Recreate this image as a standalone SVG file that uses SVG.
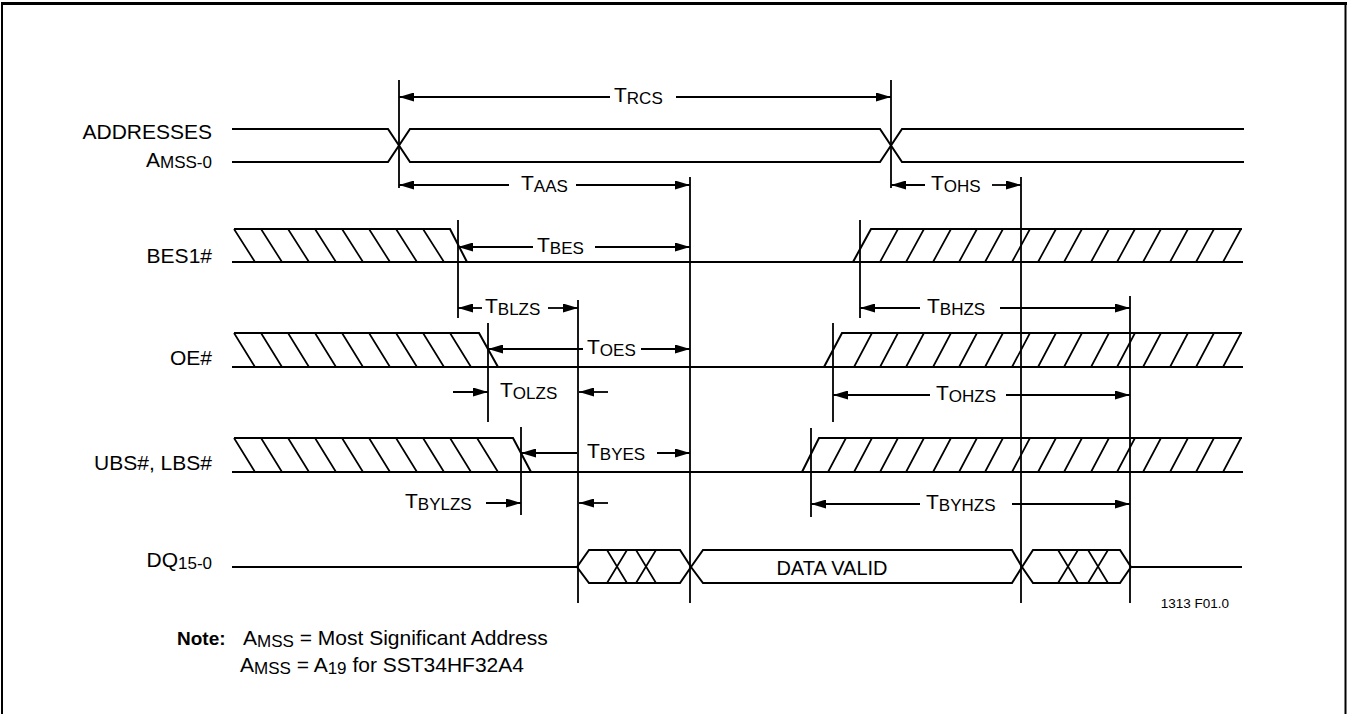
<svg xmlns="http://www.w3.org/2000/svg" width="1348" height="714" viewBox="0 0 1348 714">
<defs>
<style>
.s{stroke:#000;stroke-width:2;fill:none;stroke-linejoin:miter}
.h{stroke:#000;stroke-width:1.7;fill:none}
.v{stroke:#000;stroke-width:1.8;fill:none}
.a{stroke:#000;stroke-width:1.8;fill:none;marker-end:url(#ah)}
text{font-family:"Liberation Sans",Arial,Helvetica,sans-serif;font-size:21px;fill:#000}
.sub{font-size:17px}
.small{font-size:13.5px}
.b{font-weight:bold;font-size:19px}
</style>
<marker id="ah" viewBox="0 0 15 9" refX="15" refY="4.5" markerWidth="15" markerHeight="9" markerUnits="userSpaceOnUse" orient="auto"><path d="M0,0L15,4.5L0,9z" fill="#000"/></marker>
</defs>
<rect width="1348" height="714" fill="#fff"/>
<g id="frame">
<line x1="1" y1="3.5" x2="1347" y2="3.5" stroke="#000" stroke-width="3"/>
<line x1="2" y1="3" x2="2" y2="714" stroke="#000" stroke-width="2"/>
<line x1="1345.5" y1="3" x2="1345.5" y2="714" stroke="#000" stroke-width="2"/>
</g>
<g id="sig-addresses">
<text x="212" y="139" text-anchor="end">ADDRESSES</text>
<text x="212" y="167" text-anchor="end">A<tspan class="sub" dy="1">MSS-0</tspan></text>
<path class="s" d="M232,129L388,129L410,162L880,162L902,129L1244,129"/>
<path class="s" d="M232,162L388,162L410,129L880,129L902,162L1244,162"/>
</g>
<g id="sig-bes1">
<text x="212" y="263" text-anchor="end">BES1#</text>
<path class="s" d="M232,262L1243,262"/>
<path class="s" d="M234,229L450,229L467,262"/>
<path class="h" d="M234,229L255,262M261,229L282,262M288,229L309,262M315,229L336,262M342,229L363,262M369,229L390,262M396,229L417,262M423,229L444,262"/>
<path class="s" d="M853,262L871,229L1242,229"/>
<path class="h" d="M880,262L898,229M906,262L924,229M933,262L951,229M959,262L977,229M985,262L1003,229M1012,262L1030,229M1038,262L1056,229M1064,262L1082,229M1091,262L1109,229M1117,262L1135,229M1143,262L1161,229M1170,262L1188,229M1196,262L1214,229M1223,262L1241,229"/>
</g>
<g id="sig-oe">
<text x="212" y="365" text-anchor="end">OE#</text>
<path class="s" d="M232,367L1243,367"/>
<path class="s" d="M234,333L479,333L498,367"/>
<path class="h" d="M234,333L255,367M261,333L282,367M288,333L309,367M315,333L336,367M342,333L363,367M369,333L390,367M396,333L417,367M423,333L444,367M450,333L471,367"/>
<path class="s" d="M824,367L842,333L1242,333"/>
<path class="h" d="M854,367L872,333M880,367L898,333M906,367L924,333M933,367L951,333M959,367L977,333M985,367L1003,333M1012,367L1030,333M1038,367L1056,333M1064,367L1082,333M1091,367L1109,333M1117,367L1135,333M1143,367L1161,333M1170,367L1188,333M1196,367L1214,333M1223,367L1241,333"/>
</g>
<g id="sig-ubs">
<text x="212" y="470" text-anchor="end">UBS#, LBS#</text>
<path class="s" d="M232,472L1243,472"/>
<path class="s" d="M234,438L513,438L531,472"/>
<path class="h" d="M234,438L255,472M261,438L282,472M288,438L309,472M315,438L336,472M342,438L363,472M369,438L390,472M396,438L417,472M423,438L444,472M450,438L471,472M477,438L498,472"/>
<path class="s" d="M802,472L819,438L1242,438"/>
<path class="h" d="M828,472L846,438M854,472L872,438M880,472L898,438M906,472L924,438M933,472L951,438M959,472L977,438M985,472L1003,438M1012,472L1030,438M1038,472L1056,438M1064,472L1082,438M1091,472L1109,438M1117,472L1135,438M1143,472L1161,438M1170,472L1188,438M1196,472L1214,438M1223,472L1241,438"/>
</g>
<g id="sig-dq">
<text x="212" y="567" text-anchor="end">DQ<tspan class="sub" dy="2">15-0</tspan></text>
<path class="s" d="M232,567L577,567"/>
<path class="s" d="M577,567L589,550L680,550L691,567L680,583L589,583Z"/>
<path class="h" d="M607,550L627,583M627,550L607,583M636,550L656,583M656,550L636,583"/>
<path class="s" d="M691,567L703,550L1012,550L1022,567L1012,583L703,583Z"/>
<text x="832" y="575" text-anchor="middle" style="font-size:20px">DATA VALID</text>
<path class="s" d="M1022,567L1033,550L1120,550L1131,567L1120,583L1033,583Z"/>
<path class="h" d="M1058,550L1078,583M1078,550L1058,583M1088,550L1108,583M1108,550L1088,583"/>
<path class="s" d="M1131,567L1242,567"/>
</g>
<g id="connectors">
<path class="v" d="M399,80V188M891,80V188M690,177V603M1021,177V603M458,220V318M860,220V318M578,300V603M1130,296V603M488,323V422M833,323V422M521,427V515M811,428V517"/>
<line class="a" x1="610" y1="97" x2="399" y2="97"/>
<line class="a" x1="676" y1="97" x2="891" y2="97"/>
<text x="614" y="102">T<tspan class="sub" dy="2">RCS</tspan></text>
<line class="a" x1="509" y1="185" x2="399" y2="185"/>
<line class="a" x1="576" y1="185" x2="690" y2="185"/>
<text x="521" y="190">T<tspan class="sub" dy="2">AAS</tspan></text>
<line class="a" x1="925" y1="185" x2="891" y2="185"/>
<line class="a" x1="992" y1="185" x2="1021" y2="185"/>
<text x="931" y="190">T<tspan class="sub" dy="2">OHS</tspan></text>
<line class="a" x1="533" y1="247" x2="458" y2="247"/>
<line class="a" x1="595" y1="247" x2="690" y2="247"/>
<text x="537" y="252">T<tspan class="sub" dy="2">BES</tspan></text>
<line class="a" x1="482" y1="308" x2="458" y2="308"/>
<line class="a" x1="548" y1="308" x2="578" y2="308"/>
<text x="485" y="313">T<tspan class="sub" dy="2">BLZS</tspan></text>
<line class="a" x1="583" y1="349" x2="488" y2="349"/>
<line class="a" x1="641" y1="349" x2="690" y2="349"/>
<text x="587" y="354">T<tspan class="sub" dy="2">OES</tspan></text>
<line class="a" x1="453" y1="392" x2="488" y2="392"/>
<line class="a" x1="608" y1="392" x2="579" y2="392"/>
<text x="500" y="397">T<tspan class="sub" dy="2">OLZS</tspan></text>
<line class="a" x1="577" y1="453" x2="521" y2="453"/>
<line class="a" x1="657" y1="453" x2="690" y2="453"/>
<text x="587" y="458">T<tspan class="sub" dy="2">BYES</tspan></text>
<line class="a" x1="486" y1="503" x2="521" y2="503"/>
<line class="a" x1="608" y1="503" x2="579" y2="503"/>
<text x="405" y="508">T<tspan class="sub" dy="2">BYLZS</tspan></text>
<line class="a" x1="920" y1="308" x2="860" y2="308"/>
<line class="a" x1="1000" y1="308" x2="1130" y2="308"/>
<text x="927" y="313">T<tspan class="sub" dy="2">BHZS</tspan></text>
<line class="a" x1="930" y1="395" x2="833" y2="395"/>
<line class="a" x1="1006" y1="395" x2="1130" y2="395"/>
<text x="936" y="400">T<tspan class="sub" dy="2">OHZS</tspan></text>
<line class="a" x1="920" y1="504" x2="811" y2="504"/>
<line class="a" x1="1012" y1="504" x2="1130" y2="504"/>
<text x="926" y="509">T<tspan class="sub" dy="2">BYHZS</tspan></text>
</g>
<g id="note">
<text class="small" x="1229" y="608" text-anchor="end">1313 F01.0</text>
<text class="b" x="177" y="645">Note:</text>
<text x="243" y="645">A<tspan class="sub" dy="2">MSS</tspan><tspan dy="-2"> = Most Significant Address</tspan></text>
<text x="240" y="672">A<tspan class="sub" dy="2">MSS</tspan><tspan dy="-2"> = A</tspan><tspan class="sub" dy="2">19</tspan><tspan dy="-2"> for SST34HF32A4</tspan></text>
</g>
</svg>
